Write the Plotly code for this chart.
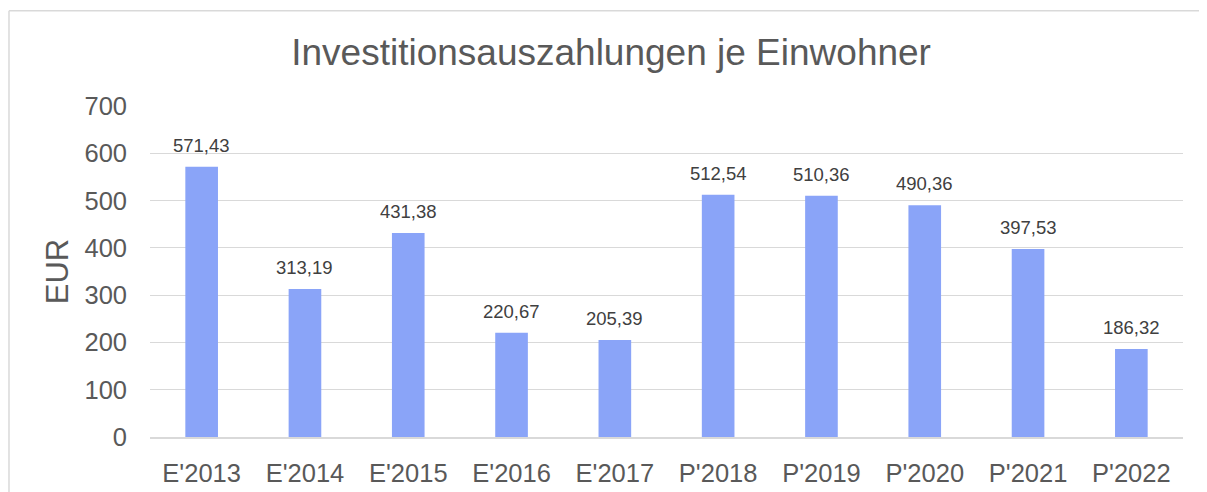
import plotly.graph_objects as go

categories = ["E'2013", "E'2014", "E'2015", "E'2016", "E'2017",
              "P'2018", "P'2019", "P'2020", "P'2021", "P'2022"]
values = [571.43, 313.19, 431.38, 220.67, 205.39,
          512.54, 510.36, 490.36, 397.53, 186.32]
y_ticks = [0, 100, 200, 300, 400, 500, 600, 700]

def de_fmt(v):
    return f"{v:.2f}".replace(".", ",")

FONT = "Liberation Sans, Arial"
TXT = "#595959"

fig = go.Figure()
fig.add_trace(go.Bar(
    x=categories, y=values,
    marker=dict(color="#8AA4F8", line=dict(width=0)),
    hoverinfo="x+y",
))

for c, v in zip(categories, values):
    fig.add_annotation(x=c, y=v, text=de_fmt(v), showarrow=False,
                       yanchor="bottom", yshift=9,
                       font=dict(family=FONT, size=18.5, color="#404040"))

# outer chart frame
fig.add_shape(type="line", xref="paper", yref="paper", x0=-0.1365, x1=1.05, y0=1.288, y1=1.288,
              line=dict(color="#d9d9d9", width=1.5))
fig.add_shape(type="line", xref="paper", yref="paper", x0=-0.1365, x1=-0.1365, y0=-0.2, y1=1.288,
              line=dict(color="#d9d9d9", width=1.5))

fig.update_layout(
    width=1199, height=484,
    margin=dict(l=142, r=24, t=98, b=55),
    paper_bgcolor="white", plot_bgcolor="white",
    bargap=0.684,
    showlegend=False,
    font=dict(family=FONT, color=TXT),
    title=dict(text="Investitionsauszahlungen je Einwohner", x=0.503, xanchor="center",
               y=0.91, yanchor="middle", xref="container", yref="container",
               font=dict(size=37, color=TXT)),
    xaxis=dict(tickfont=dict(size=25.5, color=TXT), showgrid=False,
               showline=True, linecolor="#d9d9d9", linewidth=2,
               ticklabelstandoff=12, automargin=False),
    yaxis=dict(range=[0, 700], tickvals=y_ticks, tickfont=dict(size=25.5, color=TXT),
               showgrid=True, gridcolor="#d9d9d9", gridwidth=1,
               zeroline=False, showline=False, automargin=False,
               ticklabelstandoff=22,
               title=dict(text="EUR", font=dict(size=31, color=TXT), standoff=6)),
)

fig.write_html("out.html")
